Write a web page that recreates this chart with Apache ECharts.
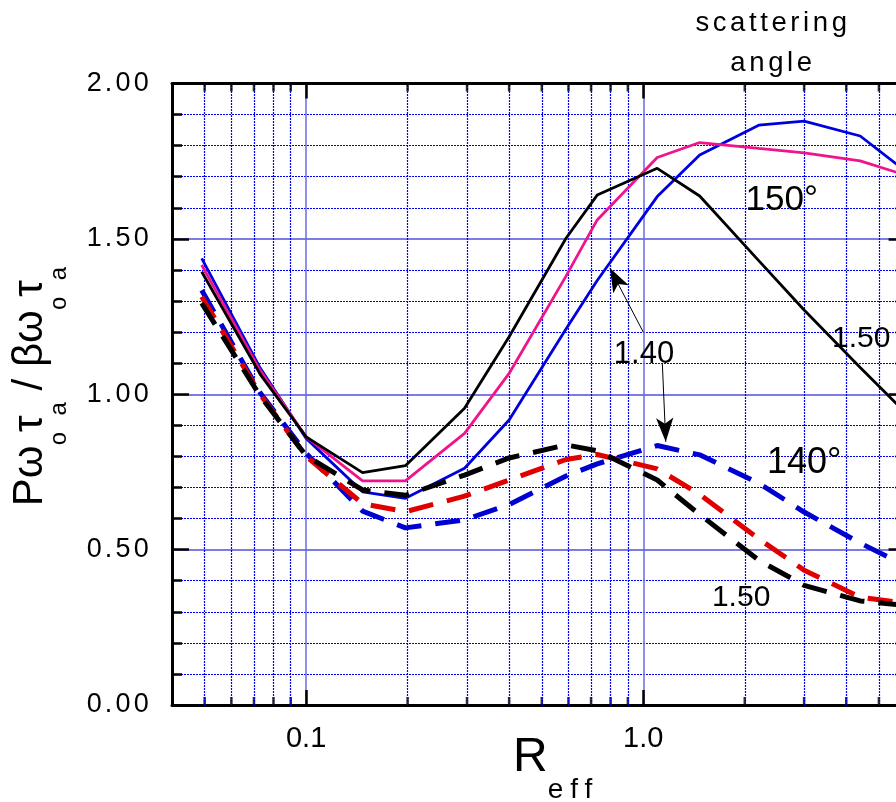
<!DOCTYPE html>
<html>
<head>
<meta charset="utf-8">
<script src="https://cdn.jsdelivr.net/npm/echarts@6/dist/echarts.min.js"></script>
<style>html,body{margin:0;padding:0;background:#fff}#c{width:896px;height:802px}</style>
</head>
<body>
<div id="c"></div>
<script>
// letter spacing for the widely spaced texts of the original (keyed by font size)
(function () {
  var P = CanvasRenderingContext2D.prototype, orig = P.fillText;
  var SP = { '27': '3.2px', '27.5': '3.6px', '28': '7px' };
  P.fillText = function (t, x, y, w) {
    var m = /(\d+(?:\.\d+)?)px/.exec(this.font || '');
    if ('letterSpacing' in this) this.letterSpacing = (m && SP[m[1]]) || '0px';
    return w === undefined ? orig.call(this, t, x, y) : orig.call(this, t, x, y, w);
  };
})();

// ---------------- data ----------------
const R = [0.049, 0.073, 0.1, 0.147, 0.197, 0.295, 0.4, 0.59, 0.73, 1.1, 1.47, 2.2, 3.0, 4.4, 6.0];
const blackSolid  = [1.394, 1.065, 0.863, 0.748, 0.770, 0.955, 1.185, 1.502, 1.641, 1.727, 1.638, 1.430, 1.271, 1.086, 0.940];
const pinkSolid   = [1.416, 1.077, 0.863, 0.721, 0.721, 0.874, 1.067, 1.380, 1.561, 1.762, 1.810, 1.791, 1.777, 1.751, 1.705];
const blueSolid   = [1.437, 1.085, 0.858, 0.686, 0.665, 0.762, 0.917, 1.210, 1.366, 1.636, 1.770, 1.866, 1.879, 1.831, 1.718];
const blackDashed = [1.293, 0.995, 0.802, 0.692, 0.675, 0.740, 0.795, 0.837, 0.818, 0.724, 0.613, 0.466, 0.385, 0.335, 0.320];
const redDashed   = [1.314, 1.000, 0.800, 0.648, 0.622, 0.672, 0.724, 0.790, 0.806, 0.760, 0.678, 0.535, 0.434, 0.347, 0.327];
const blueDashed  = [1.335, 1.005, 0.810, 0.624, 0.570, 0.596, 0.645, 0.737, 0.776, 0.835, 0.805, 0.714, 0.621, 0.521, 0.449];

const xMin = 0.04, xMax = 6;
const yMin = 0, yMax = 2, yStep = 0.5;
const xMajorTicks = [0.1, 1];
const xMajorLabels = ['0.1', '1.0'];
const xMinorTicks = [0.05, 0.06, 0.07, 0.08, 0.09, 0.2, 0.3, 0.4, 0.5, 0.6, 0.7, 0.8, 0.9, 2, 3, 4, 5];

const annotText = ['150°', '140°', '1.40', '1.50', '1.50'];
const annotR    = [2.574, 3.0, 1.005, 1.951, 4.43];
const annotY    = [1.6235, 0.779, 1.1295, 0.346, 1.178];
const annotSize = [35, 36, 31, 30, 30];
// arrows: [fromR, fromY, toR, toY]
const arrows = [[1.0, 1.20, 0.796, 1.406], [1.139, 1.10, 1.166, 0.847]];

// ---------------- chart ----------------
const FONT = '"Liberation Sans", Arial, sans-serif';
const pairs = (xs, ys) => xs.map((x, i) => [x, ys[i]]);
const chart = echarts.init(document.getElementById('c'), null, { renderer: 'canvas' });

function curve(name, ys, color, dashed) {
  return {
    name, type: 'line', data: pairs(R, ys), showSymbol: false, symbol: 'none', z: dashed ? 6 : 5,
    lineStyle: dashed ? { color, width: 5, type: [25, 14], cap: 'butt' } : { color, width: 2.8 },
    silent: true, animation: false
  };
}
function xLabel(v) {
  for (let i = 0; i < xMajorTicks.length; i++) if (Math.abs(v - xMajorTicks[i]) < 1e-9) return xMajorLabels[i];
  return '';
}

const option = {
  backgroundColor: '#fff',
  animation: false,
  textStyle: { fontFamily: FONT },
  grid: { left: 172, right: -9.6, top: 83.5, bottom: 97, containLabel: false, outerBoundsMode: 'none' },
  xAxis: [
    {
      type: 'log', logBase: 10, min: xMin, max: xMax, position: 'bottom',
      axisLine: { show: true, onZero: false, lineStyle: { color: '#000', width: 3 } },
      axisTick: { show: true, inside: true, length: 15, customValues: xMajorTicks, lineStyle: { color: '#000', width: 2.5 } },
      axisLabel: { show: true, margin: 19, fontSize: 29, color: '#000', fontFamily: FONT, customValues: xMajorTicks, formatter: xLabel },
      splitLine: { show: true, lineStyle: { color: '#6a6ae2', width: 1.5 } },
      minorTick: { show: false }, minorSplitLine: { show: false }
    },
    {
      type: 'log', logBase: 10, min: xMin, max: xMax, position: 'top',
      axisLine: { show: true, onZero: false, lineStyle: { color: '#000', width: 3 } },
      axisTick: { show: true, inside: true, length: 15, customValues: xMajorTicks, lineStyle: { color: '#000', width: 2.5 } },
      axisLabel: { show: false }, splitLine: { show: false }
    }
  ],
  yAxis: [
    {
      type: 'value', min: yMin, max: yMax, interval: yStep, position: 'left',
      axisLine: { show: true, onZero: false, lineStyle: { color: '#000', width: 3 } },
      axisTick: { show: true, inside: true, length: 17, lineStyle: { color: '#000', width: 2.5 } },
      minorTick: { show: true, splitNumber: 5, length: 10, lineStyle: { color: '#000', width: 2.5 } },
      axisLabel: { show: true, margin: 20, fontSize: 27, color: '#000', fontFamily: FONT, padding: [7, 0, 0, 0],
        formatter: v => v.toFixed(2) },
      splitLine: { show: true, lineStyle: { color: '#7c7ce6', width: 2 } },
      minorSplitLine: { show: true, lineStyle: { color: '#0000ff', width: 1.2, type: [2, 1] } }
    },
    {
      type: 'value', min: yMin, max: yMax, interval: yStep, position: 'right',
      axisLine: { show: true, onZero: false, lineStyle: { color: '#000', width: 3 } },
      axisTick: { show: true, inside: true, length: 17, lineStyle: { color: '#000', width: 2.5 } },
      minorTick: { show: true, splitNumber: 5, length: 10, lineStyle: { color: '#000', width: 2.5 } },
      axisLabel: { show: false }, splitLine: { show: false }
    }
  ],
  series: [
    {
      name: 'xMinorBottom', type: 'scatter', data: xMinorTicks.map(v => [v, yMin]), clip: false, z: 1,
      symbol: 'rect', symbolSize: [2.5, 8], symbolOffset: [0, -4], itemStyle: { color: '#000' }, silent: true,
      markLine: {
        silent: true, symbol: ['none', 'none'], label: { show: false }, animation: false,
        lineStyle: { color: '#0000ff', width: 1.2, type: [2, 1] },
        emphasis: { disabled: true },
        data: xMinorTicks.map(v => ({ xAxis: v }))
      }
    },
    {
      name: 'xMinorTop', type: 'scatter', data: xMinorTicks.map(v => [v, yMax]), clip: false, z: 10,
      symbol: 'rect', symbolSize: [2.5, 8], symbolOffset: [0, 4], itemStyle: { color: '#000' }, silent: true,
      markPoint: {
        silent: true, symbol: 'circle', symbolSize: 1, animation: false,
        itemStyle: { color: 'rgba(0,0,0,0)' },
        data: annotText.map((t, i) => ({
          coord: [annotR[i], annotY[i]], value: t, name: t,
          label: { show: true, position: 'inside', formatter: t, fontSize: annotSize[i], color: '#000', fontFamily: FONT }
        }))
      },
      markLine: {
        silent: true, symbol: ['none', 'arrow'], symbolSize: 17, label: { show: false }, animation: false,
        lineStyle: { color: '#000', width: 1, type: 'solid' },
        emphasis: { disabled: true },
        data: arrows.map(a => [{ coord: [a[0], a[1]] }, { coord: [a[2], a[3]], symbol: 'arrow', symbolSize: [13, 24] }])
      }
    },
    curve('blue 150', blueSolid, '#0000dc', false),
    curve('pink 150', pinkSolid, '#f0148c', false),
    curve('black 150', blackSolid, '#000000', false),
    curve('blue 140', blueDashed, '#0000d0', true),
    curve('red 140', redDashed, '#e00000', true),
    curve('black 140', blackDashed, '#000000', true)
  ],
  graphic: [
    {
      type: 'text', x: 9.3, y: 386.5, rotation: Math.PI / 2, silent: true,
      style: {
        text: '{m|Pω}{s|o}{m|τ}{s|a}{m| / βω}{s|o}{m|τ}{s|a}',
        rich: {
          m: { fontSize: 42, fontFamily: FONT, fill: '#000', verticalAlign: 'top', lineHeight: 42 },
          s: { fontSize: 24, fontFamily: FONT, fill: '#000', verticalAlign: 'bottom', lineHeight: 62 }
        },
        align: 'center', verticalAlign: 'top', textAlign: 'center', textVerticalAlign: 'top', fill: '#000'
      }
    },
    {
      type: 'text', x: 513, y: 734.2, silent: true,
      style: {
        text: '{r|R}{e|eff}',
        rich: {
          r: { fontSize: 48, fontFamily: FONT, fill: '#000', verticalAlign: 'top', lineHeight: 48 },
          e: { fontSize: 28, fontFamily: FONT, fill: '#000', verticalAlign: 'bottom', lineHeight: 70 }
        },
        align: 'left', verticalAlign: 'top', textAlign: 'left', textVerticalAlign: 'top', fill: '#000'
      }
    },
    {
      type: 'text', x: 773, y: 3, silent: true,
      style: {
        text: 'scattering\nangle', font: '27.5px ' + FONT, fontSize: 27.5, fontFamily: FONT, lineHeight: 40,
        align: 'center', verticalAlign: 'top', textAlign: 'center', textVerticalAlign: 'top', fill: '#000'
      }
    }
  ]
};
chart.setOption(option);
</script>
</body>
</html>
